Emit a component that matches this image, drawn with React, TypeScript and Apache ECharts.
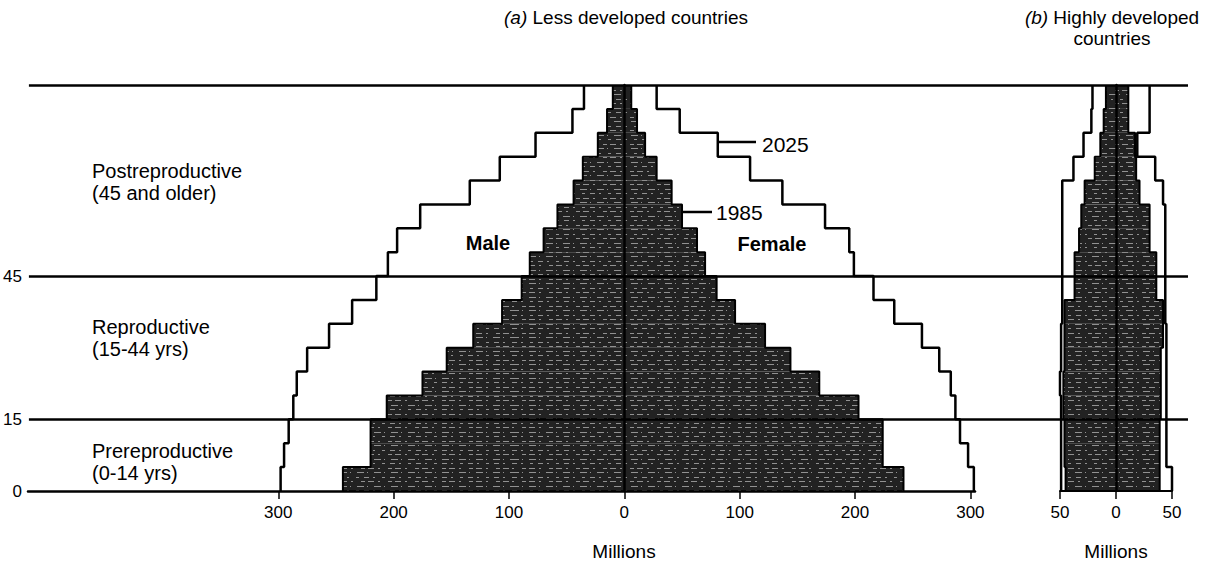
import { useEffect, useRef } from "react";
import * as echarts from "echarts";

// Five-year age groups, bottom to top
const ageGroups = [
  "0-4", "5-9", "10-14", "15-19", "20-24", "25-29", "30-34", "35-39",
  "40-44", "45-49", "50-54", "55-59", "60-64", "65-69", "70-74", "75-79", "80+",
];
const ageStep = 5;
const ageTop = 85;

// (a) Less developed countries, millions
const lessMale1985 = [244, 220, 220, 206, 175, 154, 131, 106, 89, 82, 70, 58, 44, 36, 23, 15, 10];
const lessFemale1985 = [242, 224, 224, 203, 169, 144, 122, 96, 80, 70, 63, 50, 41, 28, 18, 11, 6];
const lessMale2025 = [298, 295, 291, 287, 284, 275, 256, 236, 215, 205, 197, 177, 134, 108, 77, 45, 35];
const lessFemale2025 = [303, 298, 291, 287, 283, 273, 258, 234, 216, 199, 195, 174, 137, 109, 81, 48, 28];

// (b) Highly developed countries, millions
const moreMale1985 = [45, 46, 46, 47, 47, 46, 46, 46, 37, 37, 33, 31, 28, 19, 14, 11, 9];
const moreFemale1985 = [39, 39, 39, 40, 40, 40, 42, 42, 36, 36, 30, 30, 21, 18, 17, 11, 11];
const moreMale2025 = [49, 49, 49, 49, 50, 49, 49, 48, 48, 48, 48, 48, 48, 38, 29, 22, 21];
const moreFemale2025 = [50, 45, 45, 45, 45, 45, 45, 44, 44, 44, 44, 44, 42, 35, 19, 30, 30];

const ticksLess = [-300, -200, -100, 0, 100, 200, 300];
const ticksMore = [-50, 0, 50];
const ageLabels = [0, 15, 45];
const frameAges = [15, 45, 85];

const FONT = "'Liberation Sans', Arial, Helvetica, sans-serif";

// Stepped outline of a pyramid side: vertical edge per age group, joined by horizontal steps
function outline(values: number[], sign: number) {
  const pts: number[][] = [];
  values.forEach((v, i) => {
    pts.push([sign * v, i * ageStep]);
    pts.push([sign * v, Math.min((i + 1) * ageStep, ageTop)]);
  });
  return pts;
}

// Speckled print texture for the 1985 populations
const grain = {
  symbol: "rect",
  symbolSize: 1,
  color: "rgba(255,255,255,0.5)",
  dashArrayX: [[5, 4, 2, 7, 3, 5], [2, 8, 4, 3, 6, 4], [7, 3, 1, 6]],
  dashArrayY: [1, 3, 1, 4],
  rotation: 0,
};

function pyramidSeries(
  xi: number,
  catY: number,
  valY: number,
  m85: number[],
  f85: number[],
  m25: number[],
  f25: number[],
  key: string
) {
  const bar = (data: number[]) => ({
    type: "bar",
    xAxisIndex: xi,
    yAxisIndex: catY,
    stack: key,
    barWidth: "100%",
    data,
    itemStyle: { color: "#222", decal: grain },
    z: 2,
  });
  const line = (data: number[][], width: number) => ({
    type: "line",
    xAxisIndex: xi,
    yAxisIndex: valY,
    data,
    symbol: "none",
    clip: false,
    lineStyle: { color: "#000", width },
    z: 4,
  });
  return [
    bar(m85.map((v) => -v)),
    bar(f85),
    line(outline(m85, -1), 2),
    line(outline(f85, 1), 2),
    line(outline(m25, -1), 2.5),
    line(outline(f25, 1), 2.5),
  ];
}

export default function App() {
  const ref = useRef<HTMLDivElement>(null);

  useEffect(() => {
    if (!ref.current) return;
    const chart = echarts.init(ref.current, null, { renderer: "svg" });

    const axisText = { color: "#000", fontSize: 17, fontFamily: FONT };

    const text = (x: number, y: number, t: string, extra: any = {}) => ({
      type: "text",
      x,
      y,
      style: {
        text: t,
        fill: "#000",
        fontSize: 20,
        fontFamily: FONT,
        textAlign: "left",
        textVerticalAlign: "middle",
        ...extra,
      },
      z: 20,
    });

    const italic = { i: { fontStyle: "italic", fontSize: 19, fontFamily: FONT } };

    const option: any = {
      animation: false,
      textStyle: { fontFamily: FONT },
      grid: [
        { left: 28, top: 85, width: 947, height: 406 },
        { left: 1060, top: 85, width: 112, height: 406 },
        { left: 28, top: 85, width: 1160, height: 406 },
      ],
      xAxis: [
        {
          gridIndex: 0,
          type: "value",
          min: -517,
          max: 304,
          z: 10,
          axisLine: { onZero: false, lineStyle: { color: "#000", width: 2.5 } },
          axisTick: { customValues: ticksLess, length: 8, lineStyle: { color: "#000", width: 1.5 } },
          axisLabel: { customValues: ticksLess, margin: 13, formatter: (v: number) => String(Math.abs(v)), ...axisText },
          splitLine: { show: false },
        },
        {
          gridIndex: 1,
          type: "value",
          min: -50,
          max: 50,
          z: 10,
          axisLine: { onZero: false, lineStyle: { color: "#000", width: 2 } },
          axisTick: { customValues: ticksMore, length: 8, lineStyle: { color: "#000", width: 1.5 } },
          axisLabel: { customValues: ticksMore, margin: 13, formatter: (v: number) => String(Math.abs(v)), ...axisText },
          splitLine: { show: false },
        },
        { gridIndex: 2, type: "value", min: 0, max: 1, show: false },
      ],
      yAxis: [
        {
          gridIndex: 0,
          type: "category",
          data: ageGroups,
          z: 10,
          axisLine: { show: true, onZero: true, lineStyle: { color: "#000", width: 2.5 } },
          axisTick: { show: false },
          axisLabel: { show: false },
        },
        { gridIndex: 0, type: "value", min: 0, max: ageTop, show: false, position: "right" },
        {
          gridIndex: 1,
          type: "category",
          data: ageGroups,
          z: 10,
          axisLine: { show: true, onZero: true, lineStyle: { color: "#000", width: 2.5 } },
          axisTick: { show: false },
          axisLabel: { show: false },
        },
        { gridIndex: 1, type: "value", min: 0, max: ageTop, show: false, position: "right" },
        {
          gridIndex: 2,
          type: "value",
          min: 0,
          max: ageTop,
          axisLine: { show: false },
          axisTick: { show: false },
          splitLine: { show: false },
          axisLabel: { customValues: ageLabels, margin: 7, ...axisText },
        },
      ],
      series: [
        ...pyramidSeries(0, 0, 1, lessMale1985, lessFemale1985, lessMale2025, lessFemale2025, "less"),
        ...pyramidSeries(1, 2, 3, moreMale1985, moreFemale1985, moreMale2025, moreFemale2025, "more"),
        {
          type: "line",
          xAxisIndex: 2,
          yAxisIndex: 4,
          data: [[0, 0]],
          symbol: "none",
          lineStyle: { opacity: 0 },
          z: 10,
          markLine: {
            silent: true,
            symbol: "none",
            label: { show: false },
            lineStyle: { color: "#000", width: 2.5, type: "solid" },
            data: frameAges.map((a) => ({ yAxis: a })),
          },
        },
      ],
      graphic: [
        text(626, 17, "{i|(a)} Less developed countries", {
          textAlign: "center",
          fontSize: 19,
          rich: italic,
        }),
        text(1112, 17, "{i|(b)} Highly developed", {
          textAlign: "center",
          fontSize: 19,
          rich: italic,
        }),
        text(1112, 38, "countries", { textAlign: "center", fontSize: 19 }),
        text(92, 171, "Postreproductive"),
        text(92, 193, "(45 and older)"),
        text(92, 327, "Reproductive"),
        text(92, 349, "(15-44 yrs)"),
        text(92, 451, "Prereproductive"),
        text(92, 473, "(0-14 yrs)"),
        text(488, 243, "Male", { textAlign: "center", fontWeight: "bold" }),
        text(772, 244, "Female", { textAlign: "center", fontWeight: "bold" }),
        text(762, 144, "2025", { fontSize: 21 }),
        text(716, 212, "1985", { fontSize: 21 }),
        text(624, 551, "Millions", { textAlign: "center", fontSize: 19 }),
        text(1116, 551, "Millions", { textAlign: "center", fontSize: 19 }),
        {
          type: "line",
          shape: { x1: 719, y1: 142, x2: 756, y2: 142 },
          style: { stroke: "#000", lineWidth: 2.5 },
          z: 20,
        },
        {
          type: "line",
          shape: { x1: 683, y1: 212, x2: 712, y2: 212 },
          style: { stroke: "#000", lineWidth: 2.5 },
          z: 20,
        },
      ],
    };

    chart.setOption(option);
    return () => chart.dispose();
  }, []);

  return (
    <div
      ref={ref}
      style={{ position: "absolute", left: 0, top: 0, width: 1219, height: 570, background: "#fff" }}
    />
  );
}
